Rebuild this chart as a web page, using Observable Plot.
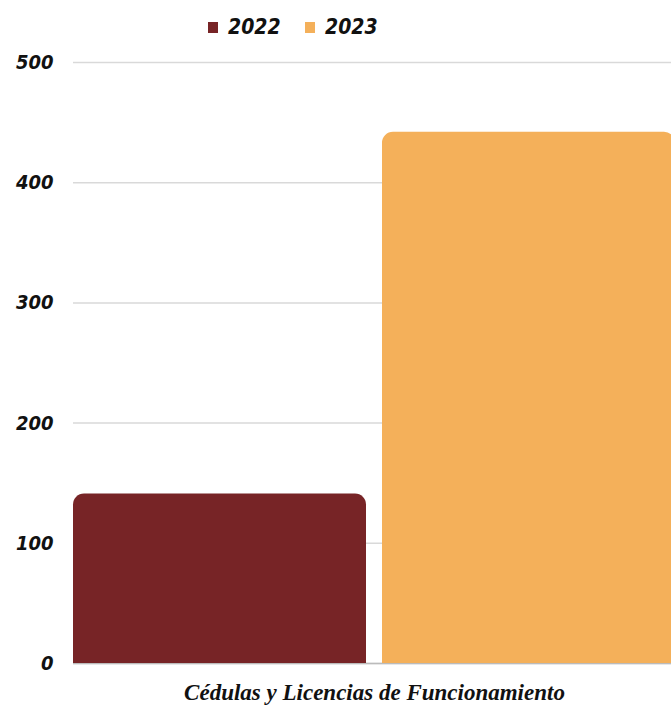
<!DOCTYPE html>
<html>
<head>
<meta charset="utf-8">
<script src="https://cdn.jsdelivr.net/npm/d3@7"></script>
<script src="https://cdn.jsdelivr.net/npm/@observablehq/plot@0.6"></script>
<style>
  html, body { margin: 0; padding: 0; background: #fff; overflow: hidden; }
  #wrap { width: 671px; overflow: hidden; }
  #legend { height: 45px; position: relative; font-family: "DejaVu Sans Condensed", sans-serif; font-weight: bold; font-style: italic; font-size: 21px; color: #111; }
  .item { position: absolute; top: 15px; display: flex; align-items: center; }
  .sw { width: 10px; height: 11px; margin-right: 10px; }
  #chart svg { display: block; max-width: none !important; }
</style>
</head>
<body>
<div id="wrap">
  <div id="legend"></div>
  <div id="chart"></div>
</div>
<script>
const category = "Cédulas y Licencias de Funcionamiento";
const years = ["2022", "2023"];
const values = [141, 442];
const colors = ["#772426", "#F4B05A"];
const yTicks = [0, 100, 200, 300, 400, 500];

const data = years.map((y, i) => ({year: y, value: values[i], category}));

// legend
const legend = document.getElementById("legend");
const lefts = [208, 305];
years.forEach((y, i) => {
  const it = document.createElement("div");
  it.className = "item";
  it.style.left = lefts[i] + "px";
  it.innerHTML = `<span class="sw" style="background:${colors[i]}"></span><span>${y}</span>`;
  legend.appendChild(it);
});

const chart = Plot.plot({
  width: 675,
  height: 672,
  marginLeft: 73,
  marginRight: 0,
  marginTop: 17,
  marginBottom: 54,
  style: {fontFamily: "DejaVu Sans Condensed, sans-serif", fontWeight: "bold", fontStyle: "italic", fontSize: "20px", color: "#111", background: "#fff", maxWidth: "none"},
  x: {domain: years, paddingInner: 0.052, paddingOuter: 0, axis: null},
  y: {domain: [0, 500], ticks: yTicks, label: null},
  color: {domain: years, range: colors},
  marks: [
    Plot.gridY(yTicks, {stroke: "#d9d9d9", strokeOpacity: 1, strokeWidth: 1.5}),
    Plot.axisY(yTicks, {tickSize: 0, tickPadding: 20, fontSize: 20, fill: "#111"}),
    Plot.ruleY([0], {stroke: "#bbb", strokeWidth: 1.5}),
    Plot.barY(data, {x: "year", y: "value", fill: "year", ry1: 11}),
    Plot.text([category], {frameAnchor: "bottom", dy: 36, text: d => d, fontSize: 23, fontFamily: "Liberation Serif, serif", fontStyle: "italic", fontWeight: "bold", fill: "#111"})
  ]
});
document.getElementById("chart").appendChild(chart);
</script>
</body>
</html>
